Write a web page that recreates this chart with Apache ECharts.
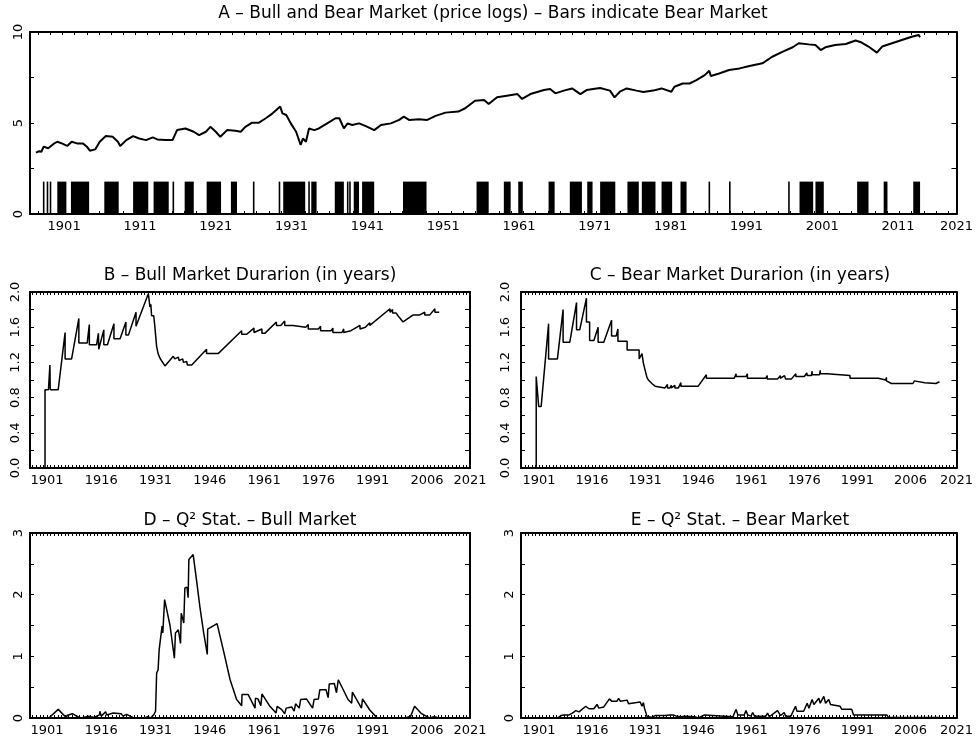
<!DOCTYPE html>
<html><head><meta charset="utf-8">
<script src="https://cdn.jsdelivr.net/npm/echarts@6/dist/echarts.min.js"></script>
<style>html,body{margin:0;padding:0;background:#fff}#c{width:976px;height:742px}</style>
</head><body><div id="c"></div>
<script>
// ---------------- DATA ----------------
const titles = [
  'A \u2013 Bull and Bear Market (price logs) \u2013 Bars indicate Bear Market',
  'B \u2013 Bull Market Durarion (in years)',
  'C \u2013 Bear Market Durarion (in years)',
  'D \u2013 Q\u00B2 Stat. \u2013 Bull Market',
  'E \u2013 Q\u00B2 Stat. \u2013 Bear Market'
];
const xLabelsA = ['1901','1911','1921','1931','1941','1951','1961','1971','1981','1991','2001','2011','2021'];
const xLabelsBE = ['1901','1916','1931','1946','1961','1976','1991','2006','2021'];
const yLabelsA = [0, 5, 10];
const yLabelsBC = [0, 0.4, 0.8, 1.2, 1.6, 2.0];
const yLabelsDE = [0, 1, 2, 3];

const priceLog = [[1897.3,3.37],[1897.7,3.45],[1898.0,3.42],[1898.3,3.70],[1898.9,3.61],[1899.6,3.85],[1900.1,3.97],[1900.7,3.88],[1901.4,3.74],[1902.0,3.97],[1902.7,3.88],[1903.5,3.88],[1904.0,3.70],[1904.4,3.48],[1905.1,3.55],[1905.7,3.97],[1906.5,4.28],[1907.4,4.24],[1908.1,3.97],[1908.4,3.74],[1909.2,4.06],[1910.1,4.28],[1910.9,4.15],[1911.8,4.06],[1912.7,4.21],[1913.3,4.10],[1914.4,4.06],[1915.3,4.06],[1915.9,4.61],[1917.0,4.70],[1918.1,4.52],[1918.8,4.33],[1919.7,4.52],[1920.3,4.79],[1921.0,4.52],[1921.6,4.24],[1922.5,4.61],[1923.6,4.57],[1924.3,4.52],[1924.9,4.79],[1925.8,5.02],[1926.7,5.02],[1927.6,5.26],[1928.5,5.53],[1929.5,5.90],[1929.8,5.53],[1930.3,5.44],[1930.9,4.98],[1931.6,4.52],[1932.2,3.79],[1932.5,4.15],[1932.9,3.97],[1933.3,4.70],[1934.0,4.61],[1934.6,4.70],[1935.7,4.98],[1936.8,5.26],[1937.3,5.26],[1937.9,4.70],[1938.4,4.98],[1939.0,4.89],[1939.9,4.98],[1940.8,4.83],[1941.9,4.61],[1942.8,4.89],[1944.1,4.98],[1945.2,5.17],[1945.8,5.35],[1946.5,5.17],[1947.8,5.20],[1948.9,5.17],[1950.0,5.39],[1951.3,5.57],[1953.0,5.63],[1953.9,5.81],[1955.2,6.22],[1956.4,6.26],[1957.0,6.04],[1958.1,6.41],[1959.4,6.50],[1960.8,6.59],[1961.4,6.32],[1962.5,6.59],[1964.3,6.81],[1965.1,6.87],[1965.8,6.63],[1966.9,6.78],[1968.0,6.90],[1969.1,6.59],[1969.9,6.81],[1971.7,6.92],[1973.0,6.78],[1973.6,6.41],[1974.3,6.72],[1975.2,6.90],[1976.5,6.78],[1977.4,6.70],[1978.7,6.78],[1979.8,6.90],[1981.1,6.72],[1981.5,6.99],[1982.6,7.17],[1983.5,7.17],[1984.4,7.36],[1985.5,7.63],[1986.1,7.87],[1986.3,7.58],[1987.4,7.72],[1988.7,7.91],[1990.1,8.00],[1991.4,8.13],[1993.1,8.28],[1994.4,8.64],[1995.8,8.92],[1997.1,9.16],[1997.9,9.38],[1999.2,9.32],[2000.1,9.29],[2000.8,9.01],[2001.4,9.16],[2002.7,9.29],[2004.1,9.34],[2005.4,9.53],[2006.2,9.42],[2007.1,9.20],[2008.2,8.87],[2008.9,9.20],[2010.2,9.38],[2011.5,9.56],[2012.8,9.74],[2013.7,9.84],[2013.9,9.71]];

const bearPeriods = [[1898.2,1898.4],[1898.7,1898.9],[1899.1,1899.3],[1900.1,1901.3],[1901.9,1904.3],[1906.3,1908.2],[1910.1,1912.1],[1912.8,1914.8],[1915.3,1915.5],[1916.9,1918.1],[1919.8,1921.7],[1923.0,1923.8],[1925.9,1926.1],[1929.3,1929.5],[1929.9,1932.8],[1933.2,1933.4],[1933.6,1934.3],[1936.7,1937.9],[1938.3,1938.4],[1938.6,1938.8],[1939.2,1939.9],[1940.3,1941.9],[1945.7,1948.8],[1955.4,1957.0],[1959.0,1959.9],[1960.9,1961.5],[1964.9,1965.7],[1967.7,1969.3],[1970.0,1970.7],[1971.7,1973.7],[1975.3,1976.8],[1977.2,1979.0],[1979.8,1981.2],[1982.3,1983.1],[1986.0,1986.2],[1988.7,1988.9],[1996.5,1996.7],[1998.0,1999.8],[2000.1,2001.2],[2005.6,2007.1],[2009.1,2009.6],[2013.0,2013.9]];
const bearBarLevel = 1.78;

const bullDuration = [[1900.45,0],[1900.45,0.89],[1901.4,0.89],[1901.8,1.17],[1901.9,0.89],[1904.1,0.89],[1906.0,1.54],[1906.0,1.24],[1907.8,1.24],[1909.8,1.70],[1909.8,1.42],[1912.1,1.42],[1912.7,1.63],[1912.7,1.40],[1914.7,1.40],[1915.2,1.53],[1915.3,1.35],[1916.7,1.57],[1916.7,1.40],[1917.7,1.40],[1919.5,1.64],[1919.5,1.47],[1921.2,1.47],[1922.8,1.66],[1922.8,1.51],[1923.5,1.51],[1925.6,1.77],[1925.6,1.61],[1929.0,1.98],[1929.45,1.83],[1929.7,1.86],[1929.9,1.73],[1930.5,1.73],[1930.8,1.61],[1931.3,1.38],[1931.7,1.30],[1932.2,1.25],[1932.8,1.21],[1933.6,1.16],[1935.9,1.27],[1936.3,1.24],[1937.3,1.26],[1937.5,1.22],[1938.5,1.24],[1938.7,1.20],[1939.6,1.21],[1939.8,1.17],[1941.0,1.17],[1945.1,1.35],[1945.1,1.30],[1948.3,1.30],[1954.8,1.56],[1954.8,1.52],[1956.2,1.52],[1958.2,1.59],[1958.2,1.54],[1960.4,1.58],[1960.4,1.53],[1961.2,1.53],[1964.4,1.66],[1964.4,1.62],[1965.6,1.62],[1966.7,1.67],[1966.7,1.62],[1969.0,1.62],[1969.5,1.64],[1969.5,1.60],[1972.5,1.60],[1973.2,1.63],[1973.2,1.58],[1976.0,1.58],[1976.6,1.61],[1976.6,1.56],[1979.5,1.56],[1980.0,1.59],[1980.0,1.54],[1982.5,1.54],[1983.0,1.58],[1983.0,1.54],[1985.0,1.56],[1987.5,1.62],[1987.5,1.58],[1989.0,1.60],[1990.2,1.65],[1990.2,1.62],[1995.8,1.81],[1995.8,1.77],[1996.5,1.80],[1996.5,1.76],[1997.5,1.76],[1998.0,1.73],[1999.4,1.66],[2002.2,1.74],[2004.0,1.74],[2005.4,1.77],[2005.4,1.74],[2006.8,1.74],[2008.2,1.81],[2008.2,1.77],[2009.4,1.77]];

const bearDuration = [[1900.2,0],[1900.2,1.04],[1900.9,0.70],[1901.6,0.70],[1903.7,1.64],[1903.7,1.24],[1906.2,1.24],[1907.8,1.80],[1907.8,1.43],[1909.7,1.43],[1911.6,1.88],[1911.6,1.57],[1912.5,1.57],[1914.4,1.93],[1914.4,1.66],[1915.3,1.66],[1915.3,1.45],[1916.5,1.45],[1917.7,1.60],[1917.7,1.43],[1919.3,1.43],[1921.5,1.68],[1921.5,1.50],[1922.8,1.50],[1923.3,1.58],[1923.3,1.44],[1925.9,1.44],[1925.9,1.34],[1929.3,1.34],[1929.3,1.24],[1930.1,1.30],[1930.5,1.19],[1931.0,1.11],[1931.5,1.03],[1931.9,1.00],[1932.9,0.96],[1933.8,0.93],[1934.3,0.91],[1936.6,0.91],[1937.3,0.95],[1937.3,0.91],[1938.0,0.91],[1938.4,0.94],[1938.4,0.91],[1939.4,0.94],[1939.4,0.91],[1940.4,0.91],[1941.1,0.97],[1941.1,0.93],[1946.0,0.93],[1948.3,1.06],[1948.3,1.02],[1956.2,1.02],[1956.7,1.07],[1956.7,1.04],[1959.5,1.04],[1959.9,1.07],[1959.9,1.02],[1965.1,1.02],[1965.5,1.05],[1965.5,1.01],[1968.4,1.01],[1969.2,1.05],[1969.2,1.02],[1970.4,1.05],[1970.7,1.01],[1972.3,1.01],[1973.6,1.07],[1973.6,1.04],[1976.0,1.04],[1976.7,1.08],[1976.8,1.05],[1978.0,1.05],[1978.2,1.10],[1978.2,1.06],[1980.3,1.06],[1980.5,1.11],[1980.5,1.07],[1982.4,1.07],[1982.4,1.05],[1988.9,1.05],[1988.9,1.02],[1996.9,1.02],[1996.9,1.00],[1999.0,1.00],[1999.2,1.03],[1999.2,0.99],[2000.6,0.96],[2006.7,0.96],[2007.1,0.99],[2007.1,0.97],[2010.0,0.97],[2010.0,0.96],[2013.2,0.96],[2014.2,0.98]];

const q2Bull = [[1900.4,0],[1901.5,0.0],[1904.1,0.14],[1906.4,0.0],[1906.5,0.04],[1908.0,0.07],[1909.5,0.02],[1910.5,0.0],[1911.0,0.02],[1912.5,0.03],[1914.0,0.01],[1915.5,0.05],[1915.6,0.11],[1916.0,0.03],[1917.2,0.10],[1917.5,0.05],[1919.3,0.08],[1921.5,0.07],[1922.0,0.03],[1923.0,0.06],[1925.0,0.0],[1928.0,0.0],[1928.8,0.02],[1929.6,0.0],[1930.5,0.05],[1931.0,0.11],[1931.3,0.73],[1931.7,0.78],[1932.0,1.11],[1932.4,1.14],[1932.8,1.49],[1933.0,1.38],[1933.5,1.92],[1934.0,1.95],[1935.0,1.50],[1936.2,0.97],[1936.5,1.38],[1937.3,1.43],[1937.9,1.21],[1938.1,1.70],[1938.6,1.68],[1938.8,1.54],[1939.1,2.11],[1939.7,2.12],[1940.0,1.95],[1940.2,2.57],[1941.4,2.65],[1942.4,2.20],[1943.3,1.78],[1944.3,1.38],[1945.3,1.03],[1945.4,1.44],[1948.0,1.53],[1949.7,1.11],[1951.6,0.62],[1953.4,0.30],[1954.8,0.20],[1954.9,0.38],[1956.6,0.38],[1958.5,0.16],[1958.6,0.32],[1959.3,0.31],[1960.1,0.20],[1960.4,0.39],[1962.6,0.19],[1964.3,0.08],[1964.6,0.19],[1965.8,0.14],[1966.7,0.07],[1967.1,0.16],[1968.6,0.18],[1969.3,0.11],[1969.7,0.23],[1970.7,0.16],[1971.1,0.30],[1972.7,0.31],[1974.4,0.16],[1974.8,0.30],[1976.0,0.31],[1976.4,0.46],[1978.1,0.46],[1978.7,0.33],[1979.0,0.55],[1980.4,0.56],[1981.0,0.41],[1981.5,0.62],[1981.9,0.62],[1984.2,0.30],[1985.2,0.24],[1985.4,0.42],[1987.9,0.16],[1988.2,0.31],[1990.2,0.13],[1992.1,0.01],[1992.5,0.0],[2000.0,0.0],[2001.5,0.03],[2002.6,0.19],[2004.5,0.07],[2006.7,0.0],[2008.0,0.02],[2009.4,0.0]];

const q2Bear = [[1900.2,0],[1906.2,0.0],[1907.2,0.04],[1908.1,0.05],[1909.5,0.05],[1910.4,0.08],[1911.4,0.12],[1912.3,0.10],[1914.2,0.19],[1915.1,0.15],[1916.5,0.15],[1917.4,0.22],[1917.9,0.16],[1919.3,0.18],[1920.9,0.31],[1921.6,0.27],[1923.0,0.27],[1923.5,0.32],[1924.0,0.27],[1925.9,0.29],[1926.3,0.23],[1929.6,0.26],[1930.1,0.19],[1930.5,0.25],[1930.8,0.16],[1931.5,0.03],[1931.8,0.0],[1932.9,0.01],[1933.8,0.04],[1936.6,0.04],[1937.1,0.02],[1938.0,0.05],[1938.4,0.02],[1938.9,0.05],[1939.8,0.03],[1940.3,0.05],[1941.2,0.02],[1942.2,0.03],[1945.0,0.02],[1946.0,0.0],[1947.8,0.05],[1948.3,0.02],[1955.8,0.02],[1956.7,0.14],[1957.2,0.05],[1959.0,0.05],[1959.5,0.12],[1960.0,0.05],[1960.9,0.03],[1961.4,0.09],[1961.9,0.03],[1965.1,0.03],[1965.6,0.08],[1966.1,0.02],[1968.4,0.12],[1969.3,0.04],[1970.3,0.09],[1970.7,0.03],[1972.2,0.03],[1973.5,0.19],[1973.9,0.11],[1975.8,0.11],[1976.8,0.24],[1977.3,0.16],[1978.2,0.30],[1978.7,0.22],[1980.1,0.32],[1980.5,0.24],[1981.5,0.35],[1982.0,0.24],[1982.9,0.30],[1983.4,0.22],[1986.1,0.19],[1986.6,0.14],[1989.4,0.14],[1989.9,0.05],[1997.4,0.05],[1997.9,0.02],[1999.3,0.05],[1999.8,0.01],[2014.2,0.01]];

// ---------------- LAYOUT ----------------
const FONT = '"DejaVu Sans", "Liberation Sans", sans-serif';
const panels = [
  {grid:{left:30,top:32,width:931,height:182}, xr:[1896.5,2018.7], xl:xLabelsA, tickStep:1.6,
   yr:[0,10], yInt:2.5, yl:yLabelsA, dec:0, ym:5, title:[493,14]},
  {grid:{left:30,top:292,width:440,height:176}, xr:[1896.3,2017.9], xl:xLabelsBE, tickStep:1,
   yr:[0,2], yInt:0.2, yl:yLabelsBC, dec:1, ym:8, title:[250,276]},
  {grid:{left:521,top:292,width:438,height:176}, xr:[1895.9,2019.0], xl:xLabelsBE, tickStep:1,
   yr:[0,2], yInt:0.2, yl:yLabelsBC, dec:1, ym:9, title:[740,276]},
  {grid:{left:30,top:533,width:440,height:185}, xr:[1896.3,2017.9], xl:xLabelsBE, tickStep:1,
   yr:[0,3], yInt:0.5, yl:yLabelsDE, dec:0, ym:5, title:[250,521]},
  {grid:{left:521,top:533,width:438,height:185}, xr:[1895.9,2019.0], xl:xLabelsBE, tickStep:1,
   yr:[0,3], yInt:0.5, yl:yLabelsDE, dec:0, ym:5, title:[740,521]}
];

const grids = [], xAxes = [], yAxes = [], graphics = [];
const lineW = 2;
panels.forEach((p, i) => {
  grids.push(Object.assign({show:false}, p.grid));
  // label positions: years of labels, the last one is placed at the axis end
  const labelPos = p.xl.map(s => Math.min(parseFloat(s), p.xr[1]));
  const fmtX = v => {
    let best = 0, bd = Infinity;
    labelPos.forEach((q, k) => { const d = Math.abs(q - v); if (d < bd) { bd = d; best = k; } });
    return p.xl[best];
  };
  const ticks = [];
  for (let t = Math.ceil(p.xr[0]) + (p.tickStep > 1 ? 0.6 : 0); t < p.xr[1]; t += p.tickStep) ticks.push(+t.toFixed(2));
  const axisLine = {show:true, onZero:false, lineStyle:{color:'#000', width:lineW}};
  xAxes.push({type:'value', gridIndex:i, min:p.xr[0], max:p.xr[1], position:'bottom',
    axisLine, splitLine:{show:false},
    axisTick:{show:true, inside:true, length:3, customValues:ticks, lineStyle:{color:'#000', width:1}},
    axisLabel:{show:true, customValues:labelPos, formatter:fmtX, color:'#000', fontFamily:FONT, fontSize:13, margin:6,
      showMinLabel:true, showMaxLabel:true, hideOverlap:false}});
  xAxes.push({type:'value', gridIndex:i, min:p.xr[0], max:p.xr[1], position:'top',
    axisLine, splitLine:{show:false},
    axisTick:{show:true, inside:true, length:3, customValues:ticks, lineStyle:{color:'#000', width:1}},
    axisLabel:{show:false}});
  yAxes.push({type:'value', gridIndex:i, min:p.yr[0], max:p.yr[1], interval:p.yInt, position:'left',
    axisLine, splitLine:{show:false},
    axisTick:{show:true, inside:true, length:4, lineStyle:{color:'#000', width:1}},
    axisLabel:{show:true, customValues:p.yl, rotate:90, formatter:v => Number(v).toFixed(p.dec),
      color:'#000', fontFamily:FONT, fontSize:13, margin:p.ym, showMinLabel:true, showMaxLabel:true}});
  yAxes.push({type:'value', gridIndex:i, min:p.yr[0], max:p.yr[1], interval:p.yInt, position:'right',
    axisLine, splitLine:{show:false},
    axisTick:{show:true, inside:true, length:5, lineStyle:{color:'#000', width:1}},
    axisLabel:{show:false}});
  graphics.push({type:'text', x:p.title[0], y:p.title[1], silent:true,
    style:{text:titles[i], fill:'#000', font:'17px ' + FONT, align:'center', verticalAlign:'middle',
      textAlign:'center', textVerticalAlign:'middle'}});
});

const lineSeries = (data, i, w) => ({type:'line', data, xAxisIndex:2*i, yAxisIndex:2*i,
  showSymbol:false, symbol:'none', lineStyle:{color:'#000', width:w}, itemStyle:{color:'#000'}, animation:false, z:3});

const series = [
  {type:'custom', xAxisIndex:0, yAxisIndex:0, data:bearPeriods, encode:{x:[0,1]}, animation:false, z:2,
    renderItem:(params, api) => {
      const a = api.coord([api.value(0), bearBarLevel]);
      const b = api.coord([api.value(1), 0]);
      return {type:'rect', shape:{x:a[0], y:a[1], width:Math.max(b[0]-a[0], 1.6), height:b[1]-a[1]},
        style:{fill:'#000'}};
    }},
  lineSeries(priceLog, 0, 2),
  lineSeries(bullDuration, 1, 1.5),
  lineSeries(bearDuration, 2, 1.5),
  lineSeries(q2Bull, 3, 1.5),
  lineSeries(q2Bear, 4, 1.5)
];

const chart = echarts.init(document.getElementById('c'), null, {renderer:'canvas'});
chart.setOption({
  animation:false,
  backgroundColor:'#fff',
  grid:grids, xAxis:xAxes, yAxis:yAxes, series, graphic:graphics
});
</script>
</body></html>
